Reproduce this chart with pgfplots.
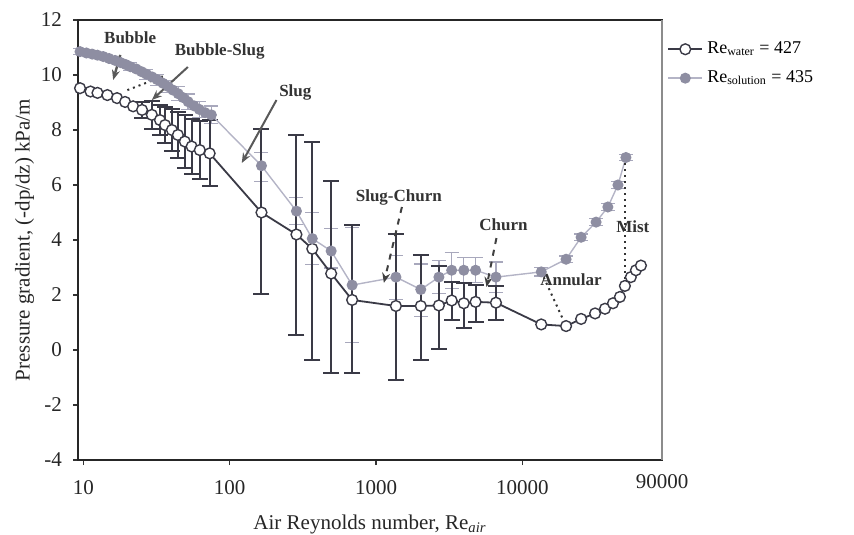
\documentclass[border=0pt]{standalone}
\usepackage{pgfplots}
\pgfplotsset{compat=1.18}
\usepackage{pgfplotstable}
\usepackage{fontspec}
\setmainfont{Liberation Serif}
\usetikzlibrary{arrows.meta}
\definecolor{wcol}{HTML}{3A3A46}
\definecolor{scol}{HTML}{8E8EA2}
\definecolor{sline}{HTML}{B4B4C6}
\definecolor{serr}{HTML}{A8A8BC}

\pgfplotstableread{
x y
9.5 9.52
11.2 9.4
12.5 9.35
14.6 9.27
17.0 9.16
19.3 9.02
21.9 8.86
25.2 8.73
29.4 8.55
33.4 8.36
36.2 8.18
40.3 8.0
44.3 7.82
49.4 7.58
55 7.4
62.5 7.27
73 7.15
165 5.0
286 4.2
367 3.68
494 2.78
687 1.82
1368 1.6
2023 1.6
2690 1.62
3290 1.8
3980 1.7
4790 1.75
6600 1.72
13460 0.93
19900 0.87
25200 1.13
31400 1.33
36700 1.5
41600 1.7
46400 1.93
50200 2.33
55100 2.65
59700 2.9
64600 3.07
}\water

\pgfplotstableread{
x y e
25.2 8.73 0.3
29.4 8.55 0.5
33.4 8.36 0.55
36.2 8.18 0.65
40.3 8.0 0.75
44.3 7.82 0.85
49.4 7.58 0.95
55 7.4 1.0
62.5 7.27 1.07
73 7.15 1.2
165 5.05 3.0
286 4.18 3.63
367 3.6 3.95
494 2.65 3.5
687 1.85 2.7
1368 1.55 2.65
2023 1.55 1.9
2690 1.55 1.5
3290 1.78 0.7
3980 1.62 0.82
4790 1.68 0.68
6600 1.7 0.62
}\watererr

\pgfplotstableread{
x y
9.5 10.85
10.5 10.8
11.5 10.76
12.5 10.72
13.7 10.67
15 10.6
16.5 10.53
18 10.45
19.5 10.38
21 10.3
23 10.22
25 10.12
27 10.03
29.5 9.93
32 9.83
35 9.7
38 9.58
41 9.45
44.5 9.32
48 9.18
52 9.03
57 8.88
62 8.75
68 8.63
75 8.55
165 6.7
286 5.05
367 4.05
494 3.6
687 2.36
1368 2.65
2023 2.2
2690 2.65
3290 2.9
3980 2.9
4790 2.9
6600 2.65
13460 2.84
19900 3.3
25200 4.1
31900 4.65
38400 5.2
45000 6.0
51000 7.0
}\solution

\pgfplotstableread{
x y e
9.5 10.85 0.1
12.5 10.72 0.1
16.5 10.53 0.12
21 10.3 0.15
27 10.03 0.18
32 9.83 0.2
38 9.58 0.22
44.5 9.32 0.25
52 9.03 0.28
62 8.75 0.3
75 8.55 0.32
165 6.65 0.53
286 5.05 0.5
367 4.05 0.94
494 3.7 0.72
687 2.36 2.08
1368 2.65 0.8
2023 2.18 0.95
2690 2.65 0.6
3290 2.9 0.65
3980 2.9 0.45
4790 2.9 0.45
6600 2.65 0.55
13460 2.84 0.15
19900 3.3 0.12
25200 4.1 0.12
31900 4.65 0.12
38400 5.2 0.12
45000 6.0 0.12
51000 7.0 0.1
}\solutionerr

\begin{document}
\begin{tikzpicture}
\begin{axis}[
  at={(0,0)}, anchor=south west,
  scale only axis, width=292pt, height=220pt,
  xmode=log, log basis x=10,
  xmin=9.2, xmax=90000, ymin=-4, ymax=12,
  xtick={10,100,1000,10000},
  xticklabels={10,100,1000,10000},
  extra x ticks={90000},
  extra x tick labels={90000},
  extra x tick style={major tick length=0pt, xticklabel style={yshift=0.5pt}},
  ytick={-4,-2,0,2,4,6,8,10,12},
  xminorticks=false,
  tick pos=left, tick align=outside,
  major tick length=2.5pt,
  tick style={color=black!80, line width=0.6pt},
  axis line style={color=black!85, line width=0.8pt},
  /pgf/number format/assume math mode=true,
  ticklabel style={font=\fontsize{10.5}{12}\selectfont, text=black!85},
  xticklabel style={yshift=-4pt},
  yticklabel style={xshift=-2pt},
  xlabel={Air Reynolds number, Re\textsubscript{\itshape air}},
  ylabel={Pressure gradient, (-dp/dz) kPa/m},
  label style={font=\fontsize{10.5}{12}\selectfont, text=black!85},
  xlabel style={yshift=-1pt},
  ylabel style={yshift=-3.5pt},
  clip=false,
  legend style={at={(1.005,0.965)}, anchor=north west, draw=none, fill=none,
    font=\fontsize{9}{11}\selectfont, row sep=3pt, inner sep=1pt},
  legend cell align=left,
]
% error bars
\addplot[draw=none, forget plot,
  error bars/.cd, y dir=both, y explicit,
  error bar style={color=serr, line width=0.6pt},
  error mark options={rotate=90, mark size=3.5pt, color=serr, line width=0.6pt}]
  table[x=x, y=y, y error=e] {\solutionerr};
\addplot[draw=none, forget plot,
  error bars/.cd, y dir=both, y explicit,
  error bar style={color=wcol, line width=1pt},
  error mark options={rotate=90, mark size=4pt, color=wcol, line width=1pt}]
  table[x=x, y=y, y error=e] {\watererr};
% series
\addplot[color=wcol, line width=0.9pt, mark=*, mark size=2.7pt,
  mark options={fill=white, draw=wcol, line width=0.7pt}]
  table[x=x, y=y] {\water};
\addlegendentry{Re\textsubscript{water} = 427}
\addplot[color=sline, line width=0.7pt, mark=*, mark size=2.4pt,
  mark options={fill=scol, draw=scol}]
  table[x=x, y=y] {\solution};
\addlegendentry{Re\textsubscript{solution} = 435}
% lighter right border as in the reference
\draw[color=black!45, line width=0.8pt] (rel axis cs:1,0) -- (rel axis cs:1,1);
% transition markers
\draw[dotted, line width=1pt, black!80] (axis cs:20,9.45) -- (axis cs:35,9.95);
\draw[dotted, line width=1pt, black!80] (axis cs:13460,2.84) -- (axis cs:19900,0.87);
\draw[dotted, line width=1pt, black!80] (axis cs:50600,7.0) -- (axis cs:50600,2.33);
% arrows
\draw[-{Stealth[length=5pt,width=4pt]}, line width=1.2pt, black!65] (axis cs:17.9,10.73) -- (axis cs:16,9.82);
\draw[-{Stealth[length=5pt,width=4pt]}, line width=1pt, black!65] (axis cs:51.8,10.29) -- (axis cs:29.4,9.09);
\draw[-{Stealth[length=5pt,width=4pt]}, line width=1pt, black!65] (axis cs:209,9.09) -- (axis cs:121,6.8);
\draw[-{Stealth[length=5pt,width=4pt]}, dashed, line width=1pt, black!75] (axis cs:1503,5.2) -- (axis cs:1132,2.44);
\draw[-{Stealth[length=5pt,width=4pt]}, dashed, line width=1pt, black!75] (axis cs:6650,4.07) -- (axis cs:5690,2.29);
% labels
\begin{scope}[every node/.style={font=\bfseries\fontsize{8.5}{10}\selectfont, text=black!80, inner sep=0.5pt}]
\node at (axis cs:20.9,11.35) {Bubble};
\node at (axis cs:85.5,10.84) {Bubble-Slug};
\node at (axis cs:281,9.38) {Slug};
\node at (axis cs:1432,5.53) {Slug-Churn};
\node at (axis cs:7430,4.55) {Churn};
\node at (axis cs:21500,2.55) {Annular};
\node at (axis cs:56900,4.5) {Mist};
\end{scope}
\end{axis}
\pgfresetboundingbox
\path (-39pt,-37pt) rectangle (388pt,230pt);
\end{tikzpicture}
\end{document}
